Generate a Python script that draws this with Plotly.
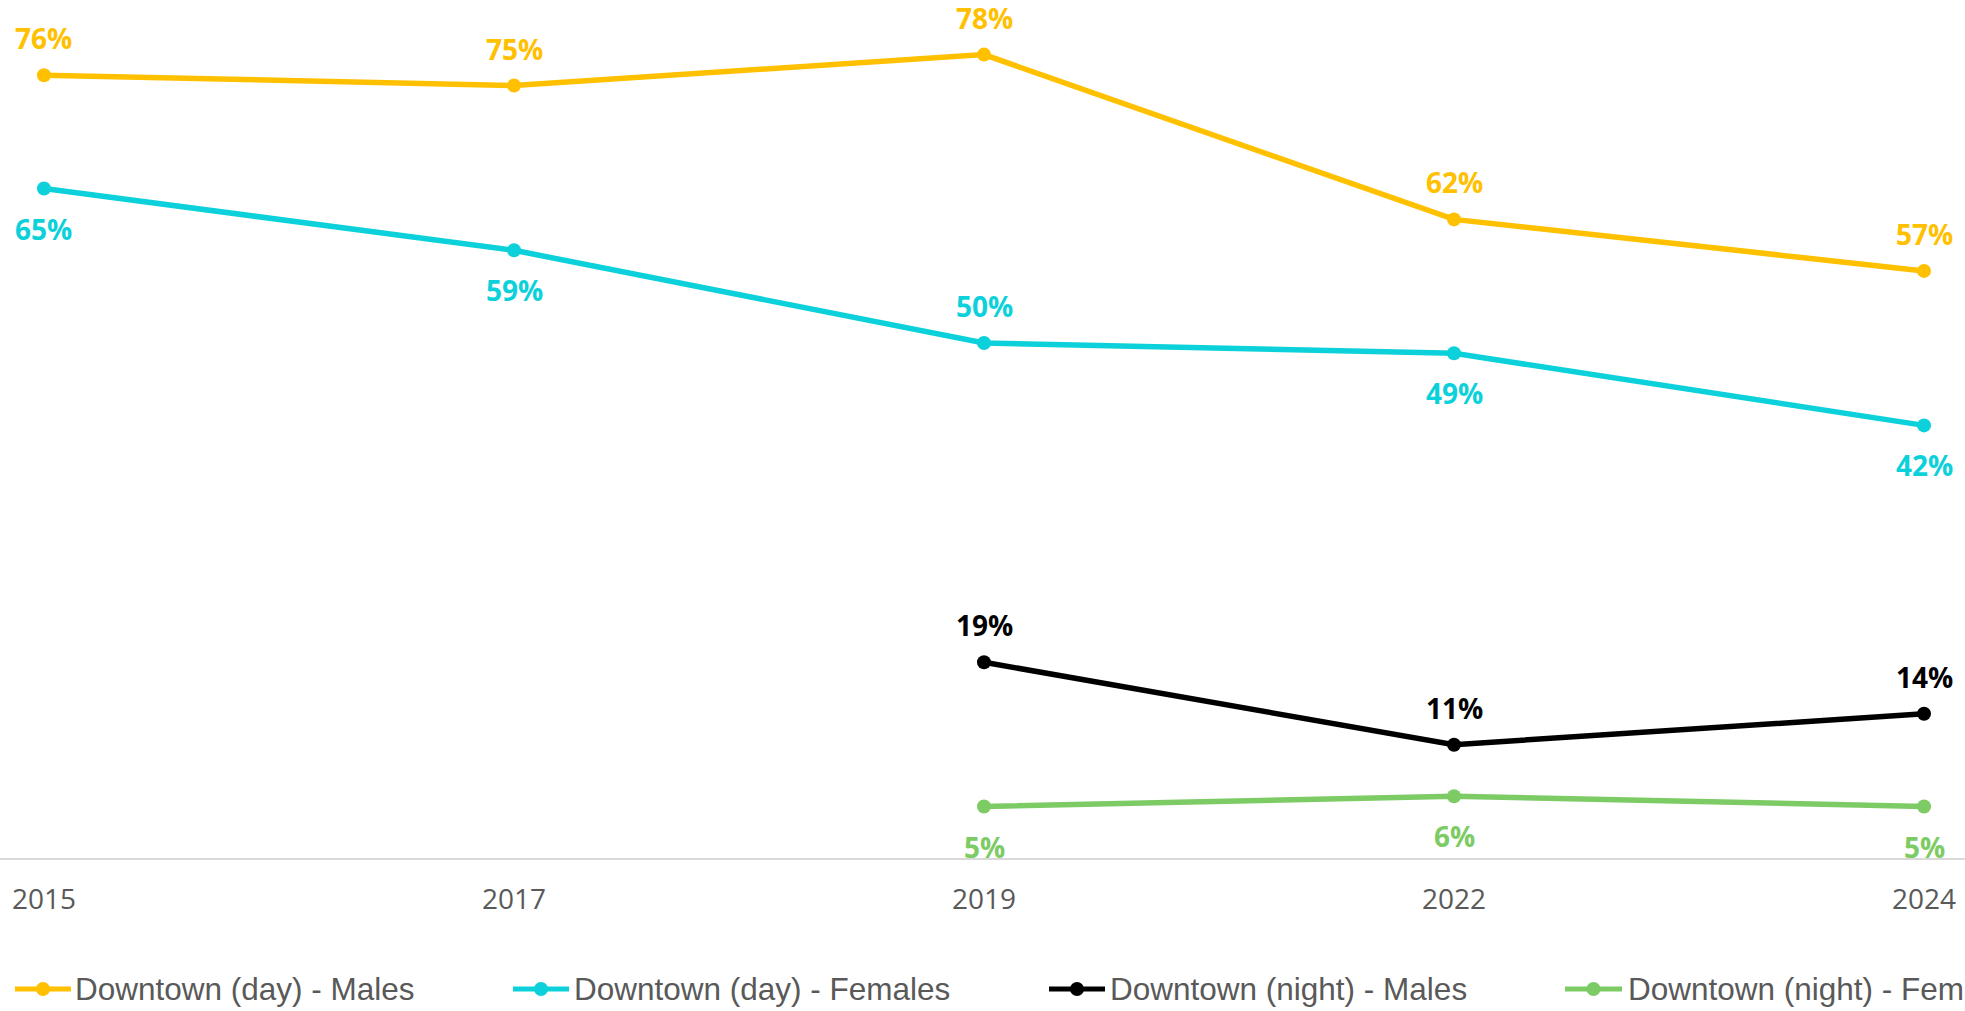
import plotly.graph_objects as go

# ---- data ----
years = ["2015", "2017", "2019", "2022", "2024"]
night_years = ["2019", "2022", "2024"]

day_males = [76, 75, 78, 62, 57]
day_females = [65, 59, 50, 49, 42]
night_males = [19, 11, 14]
night_females = [5, 6, 5]

series_names = [
    "Downtown (day) - Males",
    "Downtown (day) - Females",
    "Downtown (night) - Males",
    "Downtown (night) - Females",
]
series_colors = ["#FFC000", "#0CD1DA", "#000000", "#7CCB64"]
# label side for each point: +1 above, -1 below
label_sides = [
    [1, 1, 1, 1, 1],
    [-1, -1, 1, -1, -1],
    [1, 1, 1],
    [-1, -1, -1],
]

series_x = [years, years, night_years, night_years]
series_y = [day_males, day_females, night_males, night_females]

W, H = 1965, 1011
M_T, M_B = 34, 153
plot_h = H - M_T - M_B

fig = go.Figure()
annotations = []
shapes = []

for name, color, xs, ys, sides in zip(series_names, series_colors, series_x, series_y, label_sides):
    xi = [years.index(v) for v in xs]  # category positions on the axis
    fig.add_trace(go.Scatter(
        x=xi, y=ys, name=name, mode="lines+markers",
        line=dict(color=color, width=5.5),
        marker=dict(color=color, size=14),
        showlegend=False, cliponaxis=False,
    ))
    for xv, yv, s in zip(xi, ys, sides):
        annotations.append(dict(
            x=xv, y=yv, xref="x", yref="y", text=f"<b>{yv}%</b>",
            showarrow=False, xanchor="center", yanchor="middle",
            yshift=37 if s > 0 else -40,
            font=dict(family="Open Sans", size=28, color=color),
        ))

# ---- custom legend (clipped on the right like the reference) ----
legend_line_px = [(15, 71), (513, 569), (1049, 1105), (1565, 1622)]
legend_text_px = [73, 572, 1108, 1626]
legend_y_px = 989


def px_x(p):
    return p / W


def px_y(p):
    return (H - M_B - p) / plot_h


ly = px_y(legend_y_px)
for name, color, (x0, x1), tx in zip(series_names, series_colors, legend_line_px, legend_text_px):
    shapes.append(dict(type="line", xref="paper", yref="paper",
                       x0=px_x(x0), x1=px_x(x1), y0=ly, y1=ly,
                       line=dict(color=color, width=5)))
    cx = px_x((x0 + x1) / 2)
    shapes.append(dict(type="circle", xref="paper", yref="paper",
                       xsizemode="pixel", ysizemode="pixel",
                       xanchor=cx, yanchor=ly, x0=-7, x1=7, y0=-7, y1=7,
                       fillcolor=color, line=dict(color=color, width=0)))
    annotations.append(dict(
        x=px_x(tx), y=ly, xref="paper", yref="paper", text=name,
        showarrow=False, xanchor="left", yanchor="middle",
        font=dict(family="Liberation Sans, Arial", size=31.5, color="#595959"),
    ))

fig.update_layout(
    width=W, height=H,
    margin=dict(l=0, r=0, t=M_T, b=M_B),
    paper_bgcolor="white", plot_bgcolor="white",
    showlegend=False,
    annotations=annotations,
    shapes=shapes,
    xaxis=dict(
        tickmode="array", tickvals=list(range(len(years))), ticktext=years,
        range=[-0.0936, len(years) - 1 + 0.0872],
        showgrid=False, zeroline=False,
        showline=True, linecolor="#D9D9D9", linewidth=2,
        ticks="outside", ticklen=15, tickcolor="rgba(0,0,0,0)",
        tickfont=dict(family="Open Sans", size=28, color="#595959"),
    ),
    yaxis=dict(
        range=[0, 80], visible=False, showgrid=False, zeroline=False,
    ),
)

fig.write_html(
    "out.html",
    config={"displayModeBar": False},
    post_script="document.body.style.margin='0';document.body.style.overflow='hidden';",
)
